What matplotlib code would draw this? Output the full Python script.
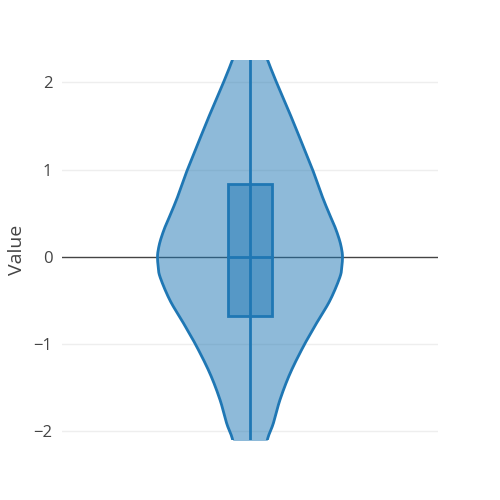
import numpy as np
import matplotlib
matplotlib.use("Agg")
import matplotlib.pyplot as plt

# violin outline: value -> relative density
levels = [2.45, 2.24, 1.99, 1.65, 1.30, 1.00, 0.70, 0.50, 0.34, 0.19, 0.08, 0.0,
          -0.10, -0.23, -0.50, -0.76, -1.03, -1.34, -1.64, -1.91, -2.06, -2.25]
density = [0.12, 0.195, 0.29, 0.427, 0.562, 0.676, 0.778, 0.854, 0.919, 0.968, 0.992, 1.0,
           0.994, 0.973, 0.865, 0.72, 0.576, 0.432, 0.324, 0.252, 0.198, 0.15]
q1, median, q3 = -0.68, 0.0, 0.83
whisker_lo, whisker_hi = -2.6, 2.6
ticks = [-2, -1, 0, 1, 2]

blue = "#1f77b4"
plt.rcParams["font.family"] = ["Open Sans", "DejaVu Sans"]


def smooth(ys, ds, n=30):
    # catmull-rom through the read points, only for a smooth outline
    p = np.column_stack([ys, ds])
    p = np.vstack([2 * p[0] - p[1], p, 2 * p[-1] - p[-2]])
    out = []
    t = np.linspace(0, 1, n, endpoint=False)[:, None]
    for i in range(1, len(p) - 2):
        p0, p1, p2, p3 = p[i - 1], p[i], p[i + 1], p[i + 2]
        seg = 0.5 * ((2 * p1) + (-p0 + p2) * t
                     + (2 * p0 - 5 * p1 + 4 * p2 - p3) * t ** 2
                     + (-p0 + 3 * p1 - 3 * p2 + p3) * t ** 3)
        out.append(seg)
    out.append(p[-2][None, :])
    out = np.vstack(out)
    return out[:, 0], out[:, 1]


fig = plt.figure(figsize=(5, 5), dpi=100)
ax = fig.add_axes([0.124, 0.12, 0.752, 0.76])

yy, dd = smooth(levels, density)
half = 0.246 * dd

ax.fill_betweenx(yy, -half, half, color=blue, alpha=0.5, lw=0, zorder=2)
ax.plot(-half, yy, color=blue, lw=2, zorder=3)
ax.plot(half, yy, color=blue, lw=2, zorder=3)

# inner box
ax.plot([0, 0], [whisker_lo, whisker_hi], color=blue, lw=2, zorder=3)
bw = 0.0585
ax.add_patch(plt.Rectangle((-bw, q1), 2 * bw, q3 - q1, facecolor=blue,
                           alpha=0.5, edgecolor="none", zorder=4))
ax.add_patch(plt.Rectangle((-bw, q1), 2 * bw, q3 - q1, facecolor="none",
                           edgecolor=blue, lw=2, zorder=5))
ax.plot([-bw, bw], [median, median], color=blue, lw=2, zorder=5)

ax.axhline(0, color="#444444", lw=1, zorder=1)
for t in ticks:
    if t != 0:
        ax.axhline(t, color="#eeeeee", lw=1, zorder=0)

ax.set_xlim(-0.5, 0.5)
ax.set_ylim(-2.10, 2.255)
ax.set_yticks(ticks)
ax.set_xticks([])
ax.tick_params(axis="y", length=0, pad=7, labelsize=12, labelcolor="#444444")
for s in ax.spines.values():
    s.set_visible(False)
ax.set_ylabel("Value", fontsize=14, color="#444444", labelpad=5)

fig.savefig("out.png", dpi=100)
